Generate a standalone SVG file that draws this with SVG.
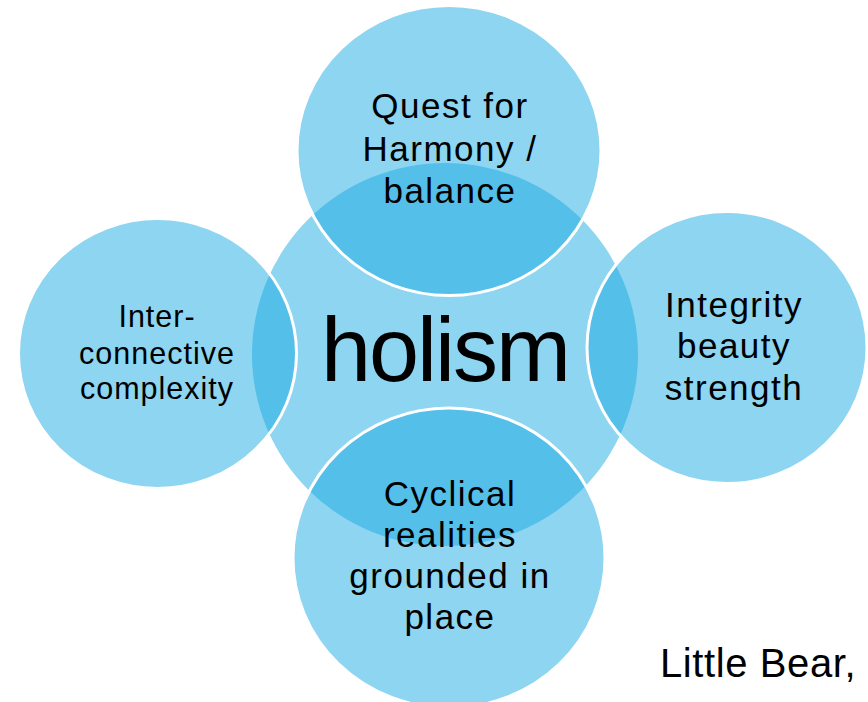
<svg xmlns="http://www.w3.org/2000/svg" width="868" height="702" viewBox="0 0 868 702">
  <style>
    .light { fill: #8DD5F1; }
    .dark { fill: #54BFE9; }
    .rim { fill: none; stroke: #FFFFFF; stroke-width: 3; }
    .label { font-family: "Liberation Sans", Arial, sans-serif; fill: #000000; text-anchor: middle; }
    .big { font-size: 35px; letter-spacing: 1.5px; }
    .small { font-size: 30.5px; letter-spacing: 1px; }
  </style>
  <defs>
    <clipPath id="hubClip">
      <ellipse cx="445" cy="354.5" rx="193" ry="191.5"/>
    </clipPath>
  </defs>

  <rect width="868" height="702" fill="#FFFFFF"/>

  <!-- central hub -->
  <g id="hub">
    <ellipse class="light" cx="445" cy="354.5" rx="193" ry="191.5"/>
  </g>

  <!-- satellites: light fill, darker lens where they cover the hub, white rim on top -->
  <g id="node-top">
    <ellipse class="light" cx="449" cy="150.5" rx="152" ry="145"/>
    <ellipse class="dark" cx="449" cy="150.5" rx="152" ry="145" clip-path="url(#hubClip)"/>
    <ellipse class="rim" cx="449" cy="150.5" rx="152" ry="145"/>
    <text class="label big" x="450" y="118">Quest for</text>
    <text class="label big" x="450" y="161">Harmony /</text>
    <text class="label big" x="450" y="203">balance</text>
  </g>

  <g id="node-left">
    <ellipse class="light" cx="157.5" cy="353.5" rx="139" ry="135"/>
    <ellipse class="dark" cx="157.5" cy="353.5" rx="139" ry="135" clip-path="url(#hubClip)"/>
    <ellipse class="rim" cx="157.5" cy="353.5" rx="139" ry="135"/>
    <text class="label small" x="157" y="327">Inter-</text>
    <text class="label small" x="157" y="364">connective</text>
    <text class="label small" x="157" y="399">complexity</text>
  </g>

  <g id="node-right">
    <ellipse class="light" cx="727" cy="347.5" rx="140" ry="136"/>
    <ellipse class="dark" cx="727" cy="347.5" rx="140" ry="136" clip-path="url(#hubClip)"/>
    <ellipse class="rim" cx="727" cy="347.5" rx="140" ry="136"/>
    <text class="label big" x="734" y="317">Integrity</text>
    <text class="label big" x="734" y="358">beauty</text>
    <text class="label big" x="734" y="400">strength</text>
  </g>

  <g id="node-bottom">
    <ellipse class="light" cx="449" cy="558" rx="156" ry="150"/>
    <ellipse class="dark" cx="449" cy="558" rx="156" ry="150" clip-path="url(#hubClip)"/>
    <ellipse class="rim" cx="449" cy="558" rx="156" ry="150"/>
    <text class="label big" x="450" y="506">Cyclical</text>
    <text class="label big" x="450" y="547">realities</text>
    <text class="label big" x="450" y="588">grounded in</text>
    <text class="label big" x="450" y="629">place</text>
  </g>

  <!-- hub title drawn last so it sits above the lenses -->
  <g id="hub-title">
    <text class="label" x="445" y="381" font-size="90" letter-spacing="-2">holism</text>
  </g>

  <g id="connectors"/>

  <text id="credit" font-family="'Liberation Sans', Arial, sans-serif" font-size="40" letter-spacing="0.6" x="660" y="677" fill="#000000">Little Bear,</text>
</svg>
